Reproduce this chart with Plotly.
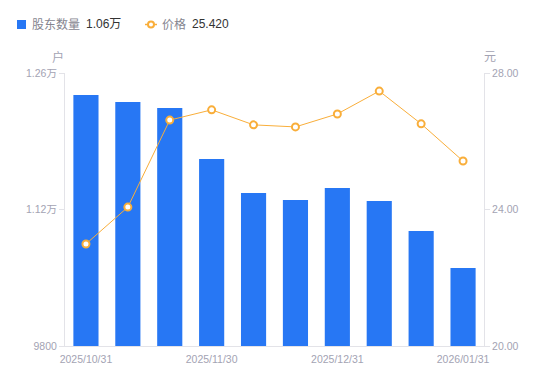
import plotly.graph_objects as go

dates = ["2025/10/31", "2025/11/10", "2025/11/20", "2025/11/30", "2025/12/10",
         "2025/12/20", "2025/12/31", "2026/01/10", "2026/01/20", "2026/01/31"]
holders = [12374, 12303, 12241, 11718, 11369, 11297, 11421, 11287, 10979, 10600]
price = [22.99, 24.07, 26.62, 26.92, 26.48, 26.42, 26.80, 27.47, 26.51, 25.42]

x_tickvals = ["2025/10/31", "2025/11/30", "2025/12/31", "2026/01/31"]
left_tickvals = [9800, 11200, 12600]
left_ticktext = ["9800", "1.12万", "1.26万"]
right_tickvals = [20, 24, 28]
right_ticktext = ["20.00", "24.00", "28.00"]

BLUE = "#2777F4"
ORANGE = "#F9AE3A"
GRAY = "#A3A3B3"
AXIS = "#E3E3E8"
FONT = "Liberation Sans, Noto Sans CJK SC, sans-serif"
TICK = 10.5

OFF = 8  # page body margin offset
W, H = 550, 381
L, T, PW, PH = 65 - OFF, 73 - OFF, 419, 273
R = W - L - PW
B = H - T - PH

fig = go.Figure()
fig.add_trace(go.Bar(x=dates, y=holders, marker=dict(color=BLUE, line=dict(width=0)),
                     name="股东数量", yaxis="y"))
fig.add_trace(go.Scatter(x=dates, y=price, mode="lines+markers", name="价格", yaxis="y2",
                         line=dict(color=ORANGE, width=1), cliponaxis=False,
                         marker=dict(symbol="circle", size=7, color="white",
                                     line=dict(color=ORANGE, width=2))))

fig.update_layout(
    width=W, height=H,
    margin=dict(l=L, r=R, t=T, b=B, autoexpand=False),
    paper_bgcolor="white", plot_bgcolor="white",
    showlegend=False, bargap=0.4,
    font=dict(family=FONT, size=11, color=GRAY),
    xaxis=dict(type="category", categoryorder="array", categoryarray=dates,
               range=[-0.5, len(dates) - 0.5], autorange=False,
               tickvals=x_tickvals, ticktext=x_tickvals, showgrid=False,
               showline=True, linecolor=AXIS, linewidth=1, ticks="",
               ticklabelstandoff=3,
               tickfont=dict(size=TICK, color=GRAY), zeroline=False),
    yaxis=dict(range=[9800, 12600], tickvals=left_tickvals, ticktext=left_ticktext,
               showgrid=False, showline=True, linecolor=AXIS, linewidth=1,
               ticks="outside", ticklen=5, tickcolor=AXIS, zeroline=False,
               tickfont=dict(size=TICK, color=GRAY)),
    yaxis2=dict(range=[20, 28], tickvals=right_tickvals, ticktext=right_ticktext,
                overlaying="y", side="right", showgrid=False, showline=True,
                linecolor=AXIS, linewidth=1, ticks="outside", ticklen=5,
                tickcolor=AXIS, zeroline=False, tickfont=dict(size=TICK, color=GRAY)),
)

# convert target screen pixel positions to paper coords
def px(x):
    return (x - OFF - L) / PW
def py(y):
    return (H - B - (y - OFF)) / PH

fig.add_annotation(x=px(58), y=py(57), xref="paper", yref="paper", text="户", showarrow=False,
                   font=dict(size=12, color=GRAY), xanchor="center", yanchor="middle")
fig.add_annotation(x=px(490), y=py(57), xref="paper", yref="paper", text="元", showarrow=False,
                   font=dict(size=12, color=GRAY), xanchor="center", yanchor="middle")

# legend
fig.add_shape(type="rect", xref="paper", yref="paper", x0=px(17), x1=px(26), y0=py(20), y1=py(29),
              fillcolor=BLUE, line=dict(width=0))
fig.add_annotation(x=px(30), y=py(24.5), xref="paper", yref="paper", showarrow=False,
                   xanchor="left", yanchor="middle", text="股东数量",
                   font=dict(size=12, color="#85858F"))
fig.add_annotation(x=px(84), y=py(24.5), xref="paper", yref="paper", showarrow=False,
                   xanchor="left", yanchor="middle", text="%.2f万" % (holders[-1] / 10000),
                   font=dict(size=12, color="#333333"))
fig.add_shape(type="line", xref="paper", yref="paper", x0=px(145), x1=px(157), y0=py(24.5), y1=py(24.5),
              line=dict(color=ORANGE, width=1.5))
fig.add_shape(type="circle", xref="paper", yref="paper", x0=px(148), x1=px(154), y0=py(21.5), y1=py(27.5),
              fillcolor="white", line=dict(color=ORANGE, width=2))
fig.add_annotation(x=px(160), y=py(24.5), xref="paper", yref="paper", showarrow=False,
                   xanchor="left", yanchor="middle", text="价格",
                   font=dict(size=12, color="#85858F"))
fig.add_annotation(x=px(190), y=py(24.5), xref="paper", yref="paper", showarrow=False,
                   xanchor="left", yanchor="middle", text="%.3f" % price[-1],
                   font=dict(size=12, color="#333333"))

fig.write_html("out.html")
